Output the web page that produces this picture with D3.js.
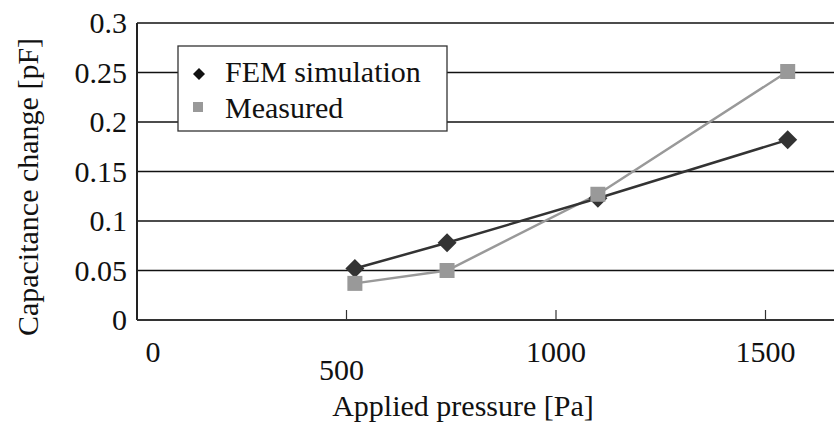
<!DOCTYPE html>
<html>
<head>
<meta charset="utf-8">
<script src="https://cdn.jsdelivr.net/npm/d3@7"></script>
</head>
<body style="margin:0">
<svg id="plot"></svg>
<script>
// data
const pressure = [520, 740, 1100, 1553];
const femValues = [0.052, 0.078, 0.123, 0.182];
const measuredValues = [0.037, 0.050, 0.127, 0.251];
const seriesNames = ["FEM simulation", "Measured"];
const yTicks = [0, 0.05, 0.1, 0.15, 0.2, 0.25, 0.3];
const xTicks = [0, 500, 1000, 1500];

const fontSize = 30;

const svg = d3.select("#plot")
    .attr("width", 834)
    .attr("height", 425);

const plotLeft = 137, plotRight = 834, plotTop = 23, plotBottom = 320;

const x = d3.scaleLinear().domain([0, 1000]).range([plotLeft, 556]);
const y = d3.scaleLinear().domain([0, 0.3]).range([plotBottom, plotTop]);

// same font for every label
function label(sel) {
    return sel.attr("font-family", "Liberation Serif")
        .style("font-family", "Liberation Serif, Times New Roman, Tinos, serif")
        .attr("font-size", fontSize)
        .attr("fill", "#111");
}

// gridlines
svg.append("g")
    .selectAll("line")
    .data(yTicks.filter(d => d > 0))
    .enter().append("line")
    .attr("x1", plotLeft).attr("x2", plotRight)
    .attr("y1", d => y(d)).attr("y2", d => y(d))
    .attr("stroke", "#111")
    .attr("stroke-width", 1.3);

// y axis labels
svg.append("g")
    .selectAll("text")
    .data(yTicks)
    .enter().append("text")
    .attr("x", plotLeft - 10)
    .attr("y", d => y(d))
    .attr("dy", "0.34em")
    .attr("text-anchor", "end")
    .call(label)
    .text(d => d);

// left axis
svg.append("line")
    .attr("x1", plotLeft).attr("x2", plotLeft)
    .attr("y1", plotTop).attr("y2", plotBottom)
    .attr("stroke", "#222")
    .attr("stroke-width", 2);

// bottom axis
svg.append("line")
    .attr("x1", plotLeft).attr("x2", plotRight)
    .attr("y1", plotBottom).attr("y2", plotBottom)
    .attr("stroke", "#333")
    .attr("stroke-width", 2.2);

// x ticks (pointing inward)
svg.append("g")
    .selectAll("line")
    .data(xTicks.filter(d => d > 0))
    .enter().append("line")
    .attr("x1", d => x(d)).attr("x2", d => x(d))
    .attr("y1", plotBottom - 10).attr("y2", plotBottom)
    .attr("stroke", "#333")
    .attr("stroke-width", 1.2);

// x labels, 500 staggered lower like the original
svg.append("g")
    .selectAll("text")
    .data(xTicks)
    .enter().append("text")
    .attr("x", d => d === 0 ? x(0) + 16 : x(d) - (d === 500 ? 5 : 0))
    .attr("y", d => d === 500 ? 380 : 362)
    .attr("text-anchor", "middle")
    .call(label)
    .text(d => d);

// axis titles
svg.append("text")
    .attr("x", 463)
    .attr("y", 416)
    .attr("text-anchor", "middle")
    .call(label)
    .text("Applied pressure [Pa]");

svg.append("text")
    .attr("transform", "translate(38, 187) rotate(-90)")
    .attr("text-anchor", "middle")
    .call(label)
    .text("Capacitance change [pF]");

const line = d3.line()
    .x(d => x(d[0]))
    .y(d => y(d[1]));

const femData = pressure.map((p, i) => [p, femValues[i]]);
const measData = pressure.map((p, i) => [p, measuredValues[i]]);

// measured series
svg.append("path")
    .datum(measData)
    .attr("d", line)
    .attr("fill", "none")
    .attr("stroke", "#999")
    .attr("stroke-width", 2.5);

// FEM series
svg.append("path")
    .datum(femData)
    .attr("d", line)
    .attr("fill", "none")
    .attr("stroke", "#333")
    .attr("stroke-width", 2.5);

svg.selectAll(".diamond")
    .data(femData)
    .enter().append("path")
    .attr("class", "diamond")
    .attr("d", "M0,-9.5L9.5,0L0,9.5L-9.5,0Z")
    .attr("transform", d => `translate(${x(d[0])},${y(d[1])})`)
    .attr("fill", "#333");

svg.selectAll(".square")
    .data(measData)
    .enter().append("rect")
    .attr("class", "square")
    .attr("x", d => x(d[0]) - 7.5)
    .attr("y", d => y(d[1]) - 7.5)
    .attr("width", 15)
    .attr("height", 15)
    .attr("fill", "#999");

// legend
const legend = svg.append("g");
legend.append("rect")
    .attr("x", 178).attr("y", 46)
    .attr("width", 269).attr("height", 85)
    .attr("fill", "#fff")
    .attr("stroke", "#333")
    .attr("stroke-width", 1.3);

legend.append("path")
    .attr("d", "M0,-6L6,0L0,6L-6,0Z")
    .attr("transform", "translate(199,74)")
    .attr("fill", "#111");
legend.append("rect")
    .attr("x", 193).attr("y", 102)
    .attr("width", 10).attr("height", 10)
    .attr("fill", "#999");

legend.selectAll("text")
    .data(seriesNames)
    .enter().append("text")
    .attr("x", 225)
    .attr("y", (d, i) => 82 + i * 36)
    .call(label)
    .text(d => d);
</script>
</body>
</html>
